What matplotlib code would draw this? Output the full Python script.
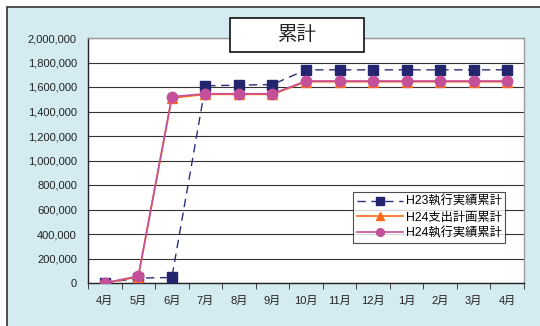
import numpy as np
import matplotlib
matplotlib.use("Agg")
import matplotlib.pyplot as plt
from matplotlib.patches import Rectangle
from matplotlib.ticker import FuncFormatter, MultipleLocator

plt.rcParams['font.family'] = ['Liberation Sans', 'Noto Sans CJK JP', 'DejaVu Sans']

months = ['4月', '5月', '6月', '7月', '8月', '9月', '10月', '11月', '12月',
          '1月', '2月', '3月', '4月']
h23_actual = [0, 40000, 45000, 1610000, 1615000, 1620000, 1740000, 1740000,
              1740000, 1740000, 1740000, 1740000, 1740000]
h24_plan = [0, 50000, 1510000, 1540000, 1540000, 1540000, 1643000, 1643000,
            1643000, 1643000, 1643000, 1643000, 1643000]
h24_actual = [0, 57000, 1521000, 1545000, 1545000, 1545000, 1649000, 1649000,
              1649000, 1649000, 1649000, 1649000, 1649000]

W, H = 540, 326
fig = plt.figure(figsize=(W / 100, H / 100), dpi=100)
fig.patch.set_facecolor('white')
fig.patches.append(Rectangle((7 / W, -0.05), 1.1, (H - 7) / H + 0.05,
                             transform=fig.transFigure, facecolor='#D4EBF2',
                             edgecolor='#333333', lw=1.2, zorder=-1))

left, right, top, bottom = 88, 524, 38, 283
ax = fig.add_axes([left / W, 1 - bottom / H, (right - left) / W, (bottom - top) / H])
ax.set_facecolor('white')

x = np.arange(len(months))
ax.plot(x, h23_actual, color='#2B2E78', ls=(0, (6, 4)), lw=1.0,
        marker='s', ms=7, mfc='#23266F', mec='#23266F', label='H23執行実績累計', zorder=3)
ax.plot(x, h24_plan, color='#FF6A13', lw=1.2,
        marker='^', ms=7, mfc='#FF6A13', mec='#FF6A13', label='H24支出計画累計', zorder=4)
ax.plot(x, h24_actual, color='#C4509A', lw=1.2,
        marker='o', ms=7.5, mfc='#C4509A', mec='#C4509A', label='H24執行実績累計', zorder=5)

ax.set_xlim(-0.5, len(months) - 0.5)
ax.set_ylim(0, 2000000)
ax.yaxis.set_major_locator(MultipleLocator(200000))
ax.yaxis.set_major_formatter(FuncFormatter(lambda v, p: f'{int(v):,}'))
ax.grid(axis='y', color='#333333', lw=0.8)
ax.set_axisbelow(True)

ax.set_xticks(x)
ax.set_xticklabels(months)
ax.set_xticks(np.arange(-0.5, len(months), 1), minor=True)
ax.tick_params(axis='x', which='major', length=0, pad=9, labelsize=8, colors='#222222')
ax.tick_params(axis='x', which='minor', length=4, direction='out', color='#222222')
ax.tick_params(axis='y', length=0, pad=8, labelsize=8, colors='#222222')

for s in ['left', 'bottom']:
    ax.spines[s].set_color('#222222')
    ax.spines[s].set_linewidth(1.0)
for s in ['top', 'right']:
    ax.spines[s].set_color('#999999')
    ax.spines[s].set_linewidth(1.0)

fig.patches.append(Rectangle((230 / W, 1 - 52 / H), 134 / W, 34 / H,
                             transform=fig.transFigure, facecolor='white',
                             edgecolor='#111111', lw=1.2, zorder=5))
fig.text(297 / W, 1 - 35 / H, '累計', ha='center', va='center', fontsize=14,
         color='#222222', zorder=6)

leg = ax.legend(loc='upper left', bbox_to_anchor=((353 - left) / (right - left), 1 - (192 - top) / (bottom - top)),
                fontsize=8.8, frameon=True, fancybox=False, edgecolor='#222222',
                borderpad=0.3, labelspacing=0.3, handlelength=3.8, handletextpad=0.2,
                borderaxespad=0, markerscale=0.75)
leg.get_frame().set_linewidth(0.8)

fig.savefig('out.png', dpi=100)
